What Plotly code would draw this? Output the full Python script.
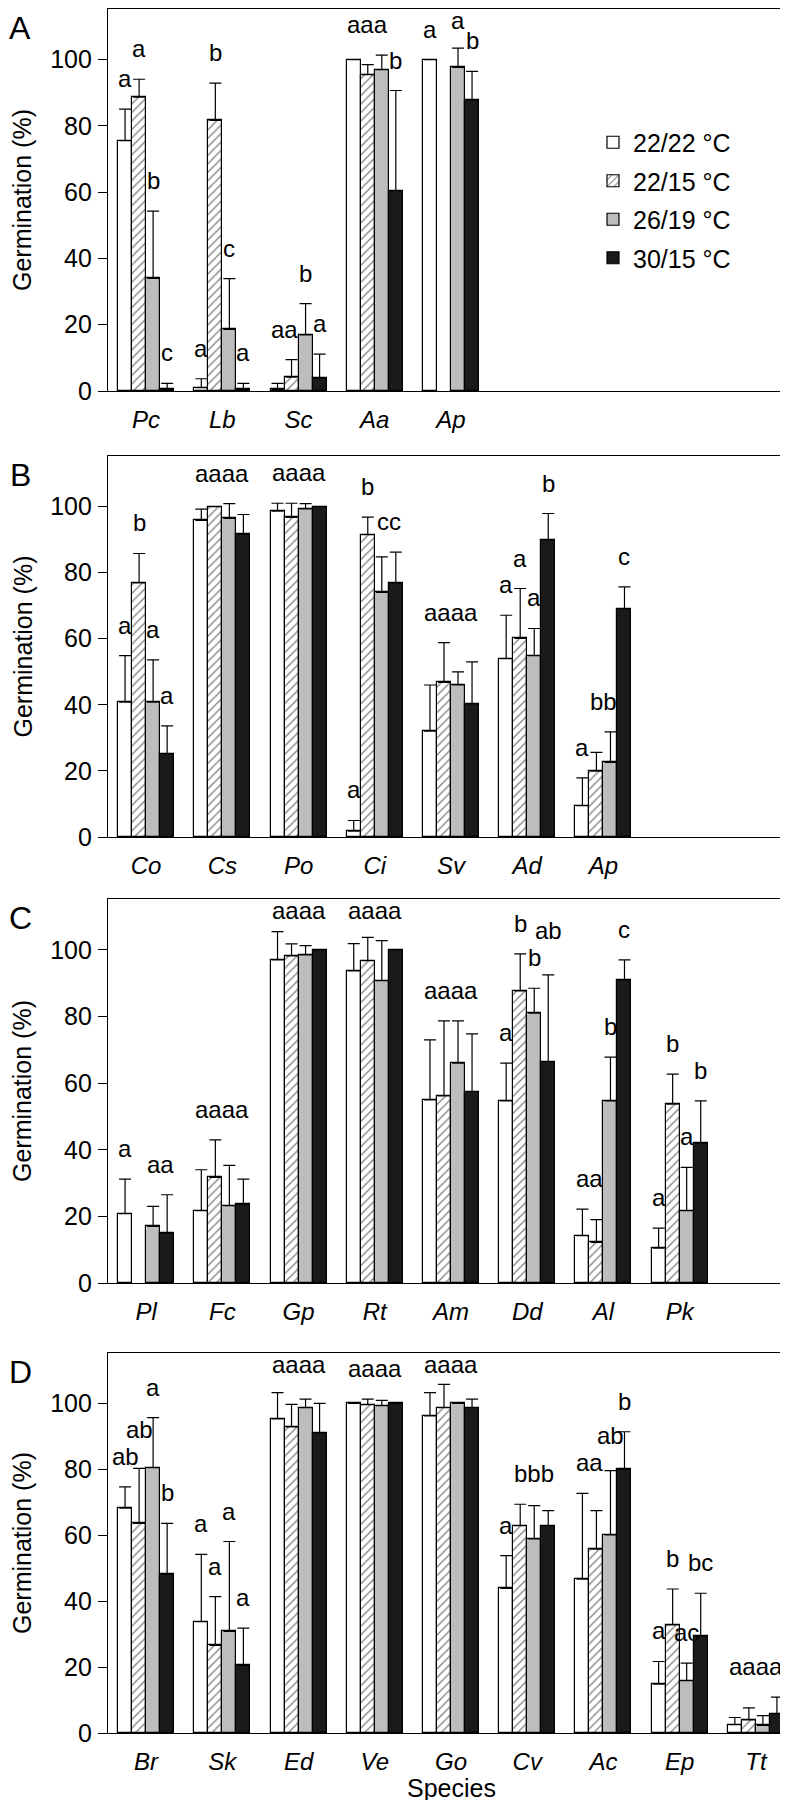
import plotly.graph_objects as go

# ---------------- data ----------------
series_names = ["22/22 °C", "22/15 °C", "26/19 °C", "30/15 °C"]

# Panel A
A_species = ["Pc", "Lb", "Sc", "Aa", "Ap"]
A_2222 = [75.6, 1.0, 0.5, 100, 100]
A_2215 = [88.7, 81.7, 4.2, 95.5, None]
A_2619 = [34.0, 18.6, 16.9, 97.0, 97.7]
A_3015 = [0.5, 0.5, 3.8, 60.5, 87.9]
A_2222_se = [9.5, 2.7, 1.8, None, None]
A_2215_se = [5.4, 11.2, 5.3, 3.0, None]
A_2619_se = [20.3, 15.3, 9.5, 4.4, 5.8]
A_3015_se = [1.8, 1.8, 7.3, 30.2, 8.6]
A_letters = [["a", "a", "b", "c"], ["a", "b", "c", "a"], ["a", "a", "b", "a"],
             ["a", "a", "a", "b"], ["a", "", "a", "b"]]

# Panel B
B_species = ["Co", "Cs", "Po", "Ci", "Sv", "Ad", "Ap"]
B_2222 = [40.8, 95.8, 98.6, 1.8, 32.0, 54.0, 9.5]
B_2215 = [76.9, 100, 96.7, 91.5, 46.8, 60.1, 19.9]
B_2619 = [40.8, 96.4, 99.3, 74.0, 46.0, 54.9, 22.6]
B_3015 = [25.2, 91.6, 100, 76.9, 40.3, 90.0, 69.1]
B_2222_se = [14.1, 3.4, 2.4, 3.2, 14.0, 13.1, 8.4]
B_2215_se = [8.9, None, 4.3, 5.3, 12.0, 15.1, 5.7]
B_2619_se = [12.8, 4.5, 1.6, 10.8, 4.0, 8.2, 9.2]
B_3015_se = [8.4, 6.0, None, 9.3, 12.7, 7.9, 6.6]
B_letters = [["a", "b", "a", "a"], ["a", "a", "a", "a"], ["a", "a", "a", "a"],
             ["a", "b", "c", "c"], ["a", "a", "a", "a"], ["a", "a", "a", "b"],
             ["a", "b", "b", "c"]]

# Panel C
C_species = ["Pl", "Fc", "Gp", "Rt", "Am", "Dd", "Al", "Pk"]
C_2222 = [20.8, 21.7, 97.0, 93.7, 55.0, 54.7, 14.2, 10.5]
C_2215 = [None, 31.7, 98.2, 96.8, 56.2, 87.7, 12.2, 53.7]
C_2619 = [17.0, 23.2, 98.5, 90.8, 66.0, 81.0, 54.7, 21.7]
C_3015 = [15.0, 23.7, 100, 100, 57.5, 66.5, 91.0, 42.0]
C_2222_se = [10.4, 12.3, 8.5, 8.2, 18.0, 11.3, 8.0, 6.0]
C_2215_se = [None, 11.3, 3.6, 7.0, 22.5, 11.1, 6.8, 9.0]
C_2619_se = [6.0, 12.1, 2.8, 12.0, 12.7, 7.5, 13.1, 13.0]
C_3015_se = [11.5, 7.5, None, None, 17.3, 26.0, 6.0, 12.7]
C_letters = [["a", "", "a", "a"], ["a", "a", "a", "a"], ["a", "a", "a", "a"],
             ["a", "a", "a", "a"], ["a", "a", "a", "a"], ["a", "b", "b", "ab"],
             ["a", "a", "b", "c"], ["a", "b", "a", "b"]]

# Panel D
D_species = ["Br", "Sk", "Ed", "Ve", "Go", "Cv", "Ac", "Ep", "Tt"]
D_2222 = [68.2, 33.8, 95.3, 100, 96.2, 43.9, 46.7, 14.8, 2.5]
D_2215 = [63.6, 26.6, 92.9, 99.6, 98.7, 62.9, 55.8, 32.8, 4.0]
D_2619 = [80.5, 30.8, 98.7, 99.3, 100, 58.9, 60.1, 15.9, 2.3]
D_3015 = [48.2, 20.5, 91.1, 100, 98.7, 62.9, 80.0, 29.5, 5.9]
D_2222_se = [6.5, 20.4, 8.0, None, 7.1, 9.9, 26.0, 6.9, 2.2]
D_2215_se = [16.7, 14.8, 6.8, 1.7, 7.1, 6.5, 11.7, 10.9, 3.6]
D_2619_se = [15.2, 27.3, 2.6, 1.6, None, 10.1, 19.5, 5.3, 3.0]
D_3015_se = [15.4, 11.3, 8.9, None, 2.6, 4.6, 11.4, 12.9, 5.0]
D_letters = [["ab", "ab", "a", "b"], ["a", "a", "a", "a"], ["a", "a", "a", "a"],
             ["a", "a", "a", "a"], ["a", "a", "a", "a"], ["a", "b", "b", "b"],
             ["a", "a", "ab", "b"], ["a", "b", "ac", "bc"], ["a", "a", "a", "a"]]

panel_tags = ["A", "B", "C", "D"]

# ---------------- layout constants ----------------
W, H = 788, 1800
ML, MR, MT, MB = 100, 2, 1, 75
PW = W - ML - MR
PH = H - MT - MB
FONT = "Liberation Sans, Arial, sans-serif"
N_SLOTS = 9
SLOT_PX = PW / N_SLOTS
BW = 0.184
OFFS = [-1.5 * BW, -0.5 * BW, 0.5 * BW, 1.5 * BW]
YMAX = 115.3
LET_SIZE = 24
CHAR_W = 0.556 * LET_SIZE
BOX_H = 27.0
YSHIFT = 15


def py(px):
    return (H - MB - px) / PH


panel_px = [(1, 383), (448, 829), (891, 1275), (1345, 1725)]

styles = [
    dict(color="white", pattern=None),
    dict(color="white", pattern=dict(shape="/", fgcolor="black", bgcolor="white", size=6, solidity=0.22)),
    dict(color="#bdbdbd", pattern=None),
    dict(color="#1a1a1a", pattern=None),
]

panels = [
    (A_species, [A_2222, A_2215, A_2619, A_3015], [A_2222_se, A_2215_se, A_2619_se, A_3015_se], A_letters),
    (B_species, [B_2222, B_2215, B_2619, B_3015], [B_2222_se, B_2215_se, B_2619_se, B_3015_se], B_letters),
    (C_species, [C_2222, C_2215, C_2619, C_3015], [C_2222_se, C_2215_se, C_2619_se, C_3015_se], C_letters),
    (D_species, [D_2222, D_2215, D_2619, D_3015], [D_2222_se, D_2215_se, D_2619_se, D_3015_se], D_letters),
]


def letter_items(i, means, ses, lab, ppu, ycap):
    """Place significance letters above error bars of group i."""
    tops = []
    for j in range(4):
        m = means[j][i]
        s = ses[j][i]
        tops.append(None if m is None else m + (s or 0))
    nonempty = [q for q in range(4) if lab[q] and tops[q] is not None]
    items = []
    j = 0
    while j < 4:
        if not lab[j] or tops[j] is None:
            j += 1
            continue
        k = j
        if len(lab[j]) == 1:
            while k + 1 < 4 and lab[k + 1] == lab[j] and tops[k + 1] is not None:
                k += 1
        run = list(range(j, k + 1))
        rt = [tops[q] for q in run]
        spread = max(rt) - min(rt)
        full = len(run) == len(nonempty)
        if len(run) > 1 and (spread <= 8 or (full and spread <= 13.5)):
            items.append([i + sum(OFFS[q] for q in run) / len(run), max(rt), lab[j] * len(run)])
        else:
            for q in run:
                items.append([i + OFFS[q], tops[q], lab[q]])
        j = k + 1
    # resolve overlaps
    for _ in range(4):
        for a in range(len(items)):
            for b in range(a + 1, len(items)):
                A, B = items[a], items[b]
                dx = abs(A[0] - B[0]) * SLOT_PX
                need = (len(A[2]) + len(B[2])) * CHAR_W / 2
                dy = abs(A[1] - B[1]) * ppu
                if dx < need - 0.5 and dy < BOX_H:
                    if len(A[2]) != len(B[2]):
                        up, other = (A, B) if len(A[2]) > len(B[2]) else (B, A)
                    else:
                        up, other = (A, B) if A[1] >= B[1] else (B, A)
                    up[1] = other[1] + BOX_H / ppu
    for it in items:
        it[1] = min(it[1], ycap)
    return items


fig = go.Figure()
annotations = []

for p, (species, means, ses, letters) in enumerate(panels):
    ax = "" if p == 0 else str(p + 1)
    n = len(species)
    top_px, bot_px = panel_px[p]
    ppu = (bot_px - top_px) / YMAX
    ycap = (bot_px - top_px - (BOX_H + YSHIFT)) / ppu
    for j in range(4):
        st = styles[j]
        marker = dict(color=st["color"], line=dict(color="black", width=1.2))
        if st["pattern"]:
            marker["pattern"] = st["pattern"]
        fig.add_trace(go.Bar(
            x=[i + OFFS[j] for i in range(n)],
            y=means[j],
            width=BW,
            name=series_names[j],
            legendgroup=series_names[j],
            showlegend=(p == 0),
            marker=marker,
            error_y=dict(type="data", symmetric=False, array=ses[j],
                         arrayminus=[0] * n, color="black", thickness=1.2, width=6),
            xaxis="x" + ax, yaxis="y" + ax,
        ))
    for i in range(n):
        for x, y, t in letter_items(i, means, ses, letters[i], ppu, ycap):
            annotations.append(dict(
                x=x, y=y, xref="x" + ax, yref="y" + ax,
                text=t, showarrow=False, yanchor="bottom", xanchor="center",
                yshift=YSHIFT, font=dict(family=FONT, size=LET_SIZE, color="black")))
    dom = [py(bot_px), py(top_px)]
    fig.layout["xaxis" + ax] = dict(
        domain=[0, 1], anchor="y" + ax, range=[-0.5, N_SLOTS - 0.5],
        tickmode="array", tickvals=list(range(n)),
        ticktext=["<i>%s</i>" % s for s in species],
        showline=True, linecolor="black", linewidth=1.3, mirror=True,
        ticks="", showgrid=False, zeroline=False, ticklabelstandoff=7,
        tickfont=dict(family=FONT, size=24, color="black"))
    fig.layout["yaxis" + ax] = dict(
        domain=dom, anchor="x" + ax, range=[0, YMAX],
        tickmode="array", tickvals=[0, 20, 40, 60, 80, 100],
        showline=True, linecolor="black", linewidth=1.3, mirror=True,
        ticks="outside", ticklen=9, tickwidth=1.3, tickcolor="black",
        showgrid=False, zeroline=False, ticklabelstandoff=1,
        tickfont=dict(family=FONT, size=25, color="black"))
    annotations.append(dict(
        x=(14 - ML) / PW, y=(dom[0] + dom[1]) / 2, xref="paper", yref="paper",
        text="Germination (%)", textangle=-90, showarrow=False,
        xanchor="center", yanchor="middle", font=dict(family=FONT, size=25, color="black")))
    annotations.append(dict(
        x=(12 - ML) / PW, y=py(top_px + 19), xref="paper", yref="paper",
        text=panel_tags[p], showarrow=False, xanchor="center", yanchor="middle",
        font=dict(family=FONT, size=32, color="black")))

annotations.append(dict(
    x=0.5, y=py(1780), xref="paper", yref="paper", text="Species", showarrow=False,
    xanchor="center", yanchor="middle", font=dict(family=FONT, size=25, color="black")))

fig.update_layout(
    width=W, height=H,
    margin=dict(l=ML, r=MR, t=MT, b=MB),
    paper_bgcolor="white", plot_bgcolor="white",
    barmode="overlay", bargap=0,
    showlegend=True,
    legend=dict(x=(585 - ML) / PW, y=py(192), xanchor="left", yanchor="middle",
                font=dict(family=FONT, size=25, color="black"), bgcolor="rgba(0,0,0,0)",
                tracegroupgap=3, itemclick=False),
    annotations=annotations,
    font=dict(family=FONT, color="black"),
)

fig.write_html("out.html")
